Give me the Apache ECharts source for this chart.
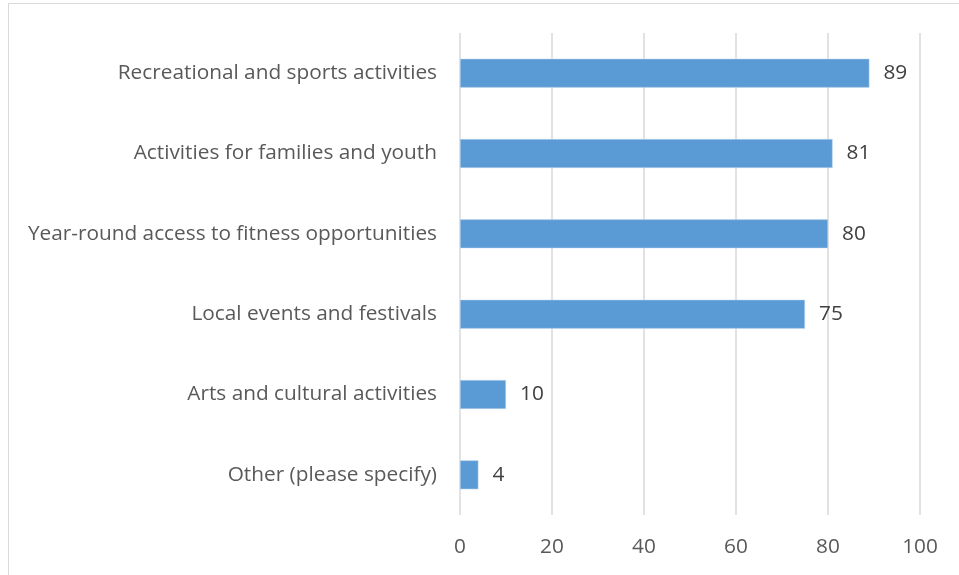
<!DOCTYPE html>
<html>
<head>
<meta charset="utf-8">
<script src="https://cdn.jsdelivr.net/npm/echarts@6/dist/echarts.min.js"></script>
<style>html,body{margin:0;padding:0;background:#fff}#c{width:959px;height:575px}</style>
</head>
<body>
<div id="c"></div>
<script>
const categories = [
  "Other (please specify)",
  "Arts and cultural activities",
  "Local events and festivals",
  "Year-round access to fitness opportunities",
  "Activities for families and youth",
  "Recreational and sports activities"
];
const values = [4, 10, 75, 80, 81, 89];
const axisMin = 0, axisMax = 100, axisStep = 20;

const FONT = "Open Sans";
const chart = echarts.init(document.getElementById('c'), null, {renderer: 'canvas'});
chart.setOption({
  animation: false,
  backgroundColor: '#ffffff',
  graphic: [{
    type: 'rect', silent: true,
    shape: {x: 8.5, y: 3.5, width: 1200, height: 1200},
    style: {fill: 'none', stroke: '#d9d9d9', lineWidth: 1}
  }],
  grid: {left: 460, right: 39, top: 33, bottom: 60, containLabel: false},
  xAxis: {
    type: 'value', min: axisMin, max: axisMax, interval: axisStep,
    axisLine: {show: false}, axisTick: {show: false},
    splitLine: {show: true, lineStyle: {color: '#d9d9d9', width: 1.5}},
    axisLabel: {color: '#595959', fontFamily: FONT, fontSize: 20.8, margin: 22}
  },
  yAxis: {
    type: 'category', data: categories,
    axisLine: {show: false}, axisTick: {show: false},
    axisLabel: {color: '#595959', fontFamily: FONT, fontSize: 20.8, margin: 23}
  },
  series: [{
    type: 'bar', data: values, barWidth: '36%',
    itemStyle: {color: '#5b9bd5', borderColor: '#c5dbf0', borderWidth: 0.5},
    label: {show: true, position: 'right', distance: 14, color: '#404040', fontFamily: FONT, fontSize: 20.8}
  }]
});
</script>
</body>
</html>
